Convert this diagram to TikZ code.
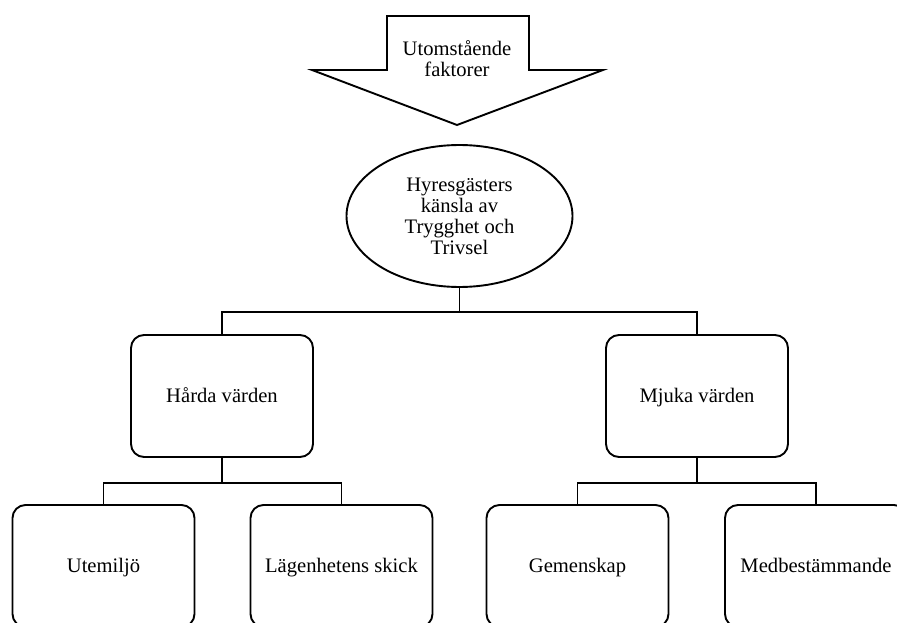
\documentclass[tikz,border=0pt]{standalone}
\usepackage{fontspec}
\setmainfont{Liberation Serif}
\usetikzlibrary{shapes.geometric}
\begin{document}
\begin{tikzpicture}[x=1pt,y=-1pt,line width=1.9pt,
  lbl/.style={font=\fontsize{20.6}{21}\selectfont,align=center,inner sep=0pt},
  rbox/.style={draw,rectangle,rounded corners=13pt,minimum width=182pt,minimum height=122pt,lbl,text height=17.4pt,text depth=4pt},
  ell/.style={draw,ellipse,minimum width=226pt,minimum height=142pt,lbl}]
\useasboundingbox (0,0) rectangle (897,623);
\clip (0,0) rectangle (897,623);
% arrow
\draw[line join=miter] (387,16) -- (529,16) -- (529,70) -- (603,70) -- (457,125) -- (312,70) -- (387,70) -- cycle;
\node[lbl] (arrtxt) at (457,58.5) {Utomstående\\faktorer};
% ellipse
\node[ell] (ell) at (459.5,216) {Hyresgästers\\känsla av\\Trygghet och\\Trivsel};
% middle boxes
\node[rbox] (hard) at (222,396) {Hårda värden};
\node[rbox] (soft) at (697,396) {Mjuka värden};
% bottom boxes
\node[rbox] (ute) at (103.5,566) {Utemiljö};
\node[rbox] (lag) at (341.5,566) {Lägenhetens skick};
\node[rbox] (gem) at (577.5,566) {Gemenskap};
\node[rbox] (med) at (816,566) {Medbestämmande};
% connectors
\path (ell.south) ++(0,24) coordinate (j1);
\draw (ell.south) -- (j1);
\draw (hard.north) |- (j1) -| (soft.north);
\path (hard.south) ++(0,25) coordinate (j2);
\draw (hard.south) -- (j2);
\draw (ute.north) |- (j2) -| (lag.north);
\path (soft.south) ++(0,25) coordinate (j3);
\draw (soft.south) -- (j3);
\draw (gem.north) |- (j3) -| (med.north);
\end{tikzpicture}
\end{document}
